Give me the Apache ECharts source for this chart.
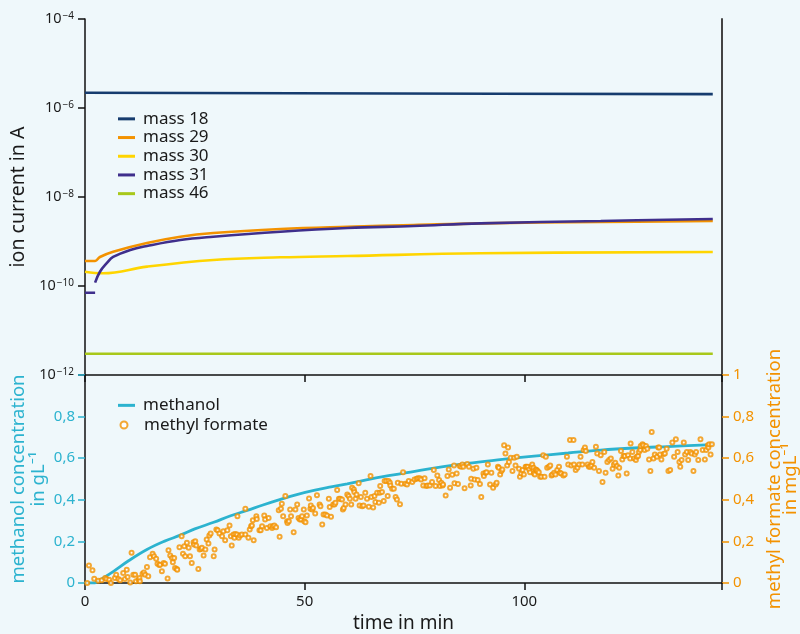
<!DOCTYPE html>
<html><head><meta charset="utf-8">
<script src="https://cdn.jsdelivr.net/npm/echarts@6/dist/echarts.min.js"></script>
<style>html,body{margin:0;padding:0;background:#eff8fb;}#c{width:800px;height:634px;}</style>
</head><body><div id="c"></div>
<script>
// ---------- data ----------
const seriesNames = ['mass 18', 'mass 29', 'mass 30', 'mass 31', 'mass 46'];
const mass18Time = [0, 70, 142.9];
const mass18 = [2.2e-6, 2.12e-6, 2.05e-6];
const mass29Time = [0, 2.3, 3.4, 6.4, 14.1, 21.7, 29.2, 44.5, 59.7, 74.8, 90.0, 117.4, 142.9];
const mass29 = [3.65e-10, 3.65e-10, 4.49e-10, 5.9e-10, 9.25e-10, 1.28e-9, 1.55e-9, 1.91e-9, 2.15e-9, 2.35e-9, 2.56e-9, 2.74e-9, 2.89e-9];
const mass30Time = [0, 4.1, 14.1, 29.2, 44.5, 59.7, 90.0, 142.9];
const mass30 = [2.09e-10, 1.93e-10, 2.72e-10, 3.84e-10, 4.41e-10, 4.72e-10, 5.43e-10, 5.81e-10];
const mass31aTime = [0, 2.3];
const mass31a = [7.07e-11, 7.07e-11];
const mass31bTime = [2.3, 3.4, 5.0, 6.4, 10.3, 14.1, 21.7, 29.2, 44.5, 59.7, 74.8, 90.0, 117.4, 142.9];
const mass31b = [1.19e-10, 2.09e-10, 3.29e-10, 4.49e-10, 6.45e-10, 7.92e-10, 1.08e-9, 1.28e-9, 1.66e-9, 2.01e-9, 2.23e-9, 2.56e-9, 2.89e-9, 3.21e-9];
const mass46Time = [0, 142.9];
const mass46 = [3.0e-12, 3.0e-12];

const methanolTime = [0, 2.2, 3.0, 4.0, 6.5, 10, 14.1, 18, 21.7, 25, 29.3, 33, 36.9, 40.5, 44.5, 48, 52.1, 56, 59.7, 67.2, 74.1, 79.4, 87, 95, 102.2, 110, 117.4, 125, 132.6, 142.9];
const methanol = [0, 0, 0.01, 0.022, 0.056, 0.108, 0.161, 0.2, 0.23, 0.26, 0.292, 0.322, 0.349, 0.375, 0.402, 0.424, 0.445, 0.462, 0.477, 0.509, 0.533, 0.552, 0.575, 0.594, 0.61, 0.625, 0.639, 0.649, 0.656, 0.665];

const formateTime = [0.5,0.9,1.7,2.1,3.0,3.8,4.6,4.9,5.5,5.9,6.8,7.1,7.6,8.0,8.7,9.1,9.5,9.7,10.3,10.6,11.0,11.4,11.6,12.2,12.4,12.5,13.1,13.4,13.7,14.1,14.4,14.8,15.4,15.7,16.2,16.5,16.9,17.1,17.5,17.9,18.2,18.8,19.0,19.4,19.8,20.0,20.3,20.5,20.9,21.0,21.5,22.0,22.3,22.6,22.8,23.2,23.6,23.9,24.3,24.7,24.8,25.1,25.3,25.8,26.1,26.4,26.6,27.0,27.4,27.7,28.1,28.3,28.6,29.3,29.5,29.9,30.2,30.6,31.2,31.5,31.9,32.4,32.9,33.2,33.4,33.8,34.0,34.2,34.6,34.7,35.0,35.3,35.7,36.5,36.5,37.2,37.5,37.8,38.0,38.2,38.4,39.0,39.1,39.7,40.0,40.3,40.8,41.0,41.4,41.8,42.2,42.6,42.8,43.1,43.5,44.1,44.3,44.6,44.8,45.1,45.6,46.0,46.1,46.4,46.7,46.9,47.5,47.9,48.3,48.6,48.9,49.2,49.4,49.8,49.9,50.2,50.5,51.0,51.3,51.4,51.7,51.9,52.4,52.8,53.4,53.6,54.0,54.3,54.7,55.1,55.5,55.7,56.0,56.5,56.8,57.0,57.4,57.8,58.1,58.5,58.7,58.9,59.3,59.7,60.0,60.3,60.6,60.8,61.2,61.3,61.6,61.8,62.3,62.5,62.8,63.1,63.4,63.8,64.2,64.6,65.0,65.2,65.6,65.9,66.1,66.5,66.9,67.1,67.2,67.6,68.0,68.2,68.6,68.9,69.1,69.4,69.5,69.9,70.3,70.7,71.0,71.2,71.7,72.0,72.4,72.9,73.3,73.7,74.5,75.0,75.5,75.8,76.2,76.5,77.0,77.3,77.7,78.0,78.5,79.0,79.4,79.8,80.2,80.6,80.8,81.1,81.4,81.5,82.1,82.5,82.8,83.1,83.6,84.0,84.1,84.6,84.9,85.3,85.6,85.9,86.1,86.4,87.0,87.4,87.8,87.9,88.4,88.7,89.1,89.4,89.9,90.2,90.7,90.8,91.2,91.4,91.7,92.2,92.5,92.9,93.5,93.7,94.0,94.2,94.5,94.8,95.0,95.4,95.7,96.1,96.3,96.5,96.9,97.3,97.7,98.0,98.3,98.8,99.0,99.3,99.6,99.9,100.3,100.5,100.8,101.1,101.3,101.6,101.8,102.1,102.2,102.4,102.6,102.8,103.0,103.3,103.6,103.9,104.3,104.6,104.9,105.2,105.6,105.9,106.2,106.4,106.8,107.1,107.5,107.9,108.1,108.4,108.9,109.2,109.7,110.0,110.4,110.7,111.2,111.3,111.7,112.1,112.5,112.8,113.2,113.5,113.8,114.0,114.4,114.7,115.0,115.3,115.5,115.9,116.3,116.6,117.0,117.4,117.8,118.2,118.5,118.9,119.3,119.7,120.1,120.4,120.7,121.1,121.4,121.6,122.0,122.3,122.6,122.9,123.3,123.6,124.1,124.2,124.6,125.0,125.4,125.6,125.9,126.1,126.4,126.5,126.9,127.1,127.4,127.7,128.0,128.4,128.7,129.0,129.4,129.7,130.2,130.5,130.7,130.9,131.2,131.7,132.0,132.4,132.8,133.2,133.7,134.1,134.5,134.9,135.3,135.5,135.8,136.3,136.6,137.0,137.3,137.8,138.1,138.5,138.8,139.1,139.6,140.1,140.6,141.1,141.4,141.8,141.9,142.1,142.4,142.7];
const formate = [0,0.084,0.061,0.021,0.011,0.013,0.024,0.019,0.016,0,0.024,0.040,0.019,0.013,0.048,0.019,0.064,0.029,0.003,0.145,0.040,0.040,0.008,0.016,0.024,0.008,0.045,0.051,0.040,0.077,0.032,0.124,0.141,0.129,0.116,0.093,0.087,0.088,0.056,0.096,0.093,0.022,0.157,0.132,0.120,0.100,0.120,0.072,0.067,0.064,0.172,0.225,0.141,0.177,0.129,0.193,0.169,0.129,0.096,0.196,0.185,0.201,0.180,0.067,0.161,0.164,0.169,0.132,0.161,0.209,0.190,0.228,0.238,0.129,0.161,0.257,0.254,0.238,0.225,0.249,0.206,0.254,0.276,0.225,0.180,0.233,0.217,0.236,0.233,0.321,0.217,0.228,0.233,0.357,0.233,0.217,0.257,0.273,0.276,0.302,0.206,0.321,0.308,0.254,0.254,0.273,0.324,0.305,0.265,0.313,0.273,0.265,0.273,0.276,0.268,0.350,0.222,0.357,0.381,0.321,0.418,0.297,0.289,0.297,0.353,0.321,0.244,0.353,0.378,0.313,0.305,0.305,0.321,0.353,0.297,0.292,0.324,0.406,0.357,0.373,0.353,0.361,0.334,0.422,0.378,0.369,0.281,0.329,0.329,0.324,0.405,0.365,0.318,0.378,0.378,0.386,0.447,0.405,0.405,0.402,0.353,0.361,0.378,0.426,0.418,0.405,0.378,0.458,0.450,0.437,0.405,0.426,0.479,0.373,0.414,0.369,0.373,0.434,0.405,0.366,0.514,0.414,0.363,0.418,0.390,0.434,0.386,0.434,0.466,0.437,0.394,0.490,0.490,0.418,0.490,0.482,0.469,0.453,0.453,0.414,0.402,0.482,0.379,0.477,0.533,0.477,0.474,0.490,0.485,0.498,0.501,0.504,0.504,0.498,0.469,0.504,0.466,0.469,0.469,0.485,0.543,0.466,0.517,0.495,0.466,0.482,0.469,0.474,0.421,0.514,0.546,0.458,0.520,0.565,0.479,0.527,0.476,0.562,0.559,0.570,0.559,0.456,0.572,0.559,0.469,0.501,0.549,0.498,0.554,0.495,0.476,0.414,0.527,0.514,0.530,0.533,0.570,0.474,0.530,0.458,0.474,0.482,0.559,0.554,0.522,0.538,0.546,0.662,0.623,0.565,0.651,0.582,0.602,0.538,0.602,0.565,0.607,0.549,0.511,0.527,0.543,0.522,0.559,0.559,0.559,0.546,0.533,0.559,0.570,0.554,0.527,0.522,0.546,0.543,0.538,0.533,0.511,0.511,0.614,0.511,0.607,0.554,0.559,0.565,0.517,0.522,0.530,0.522,0.543,0.559,0.530,0.527,0.517,0.522,0.607,0.570,0.688,0.565,0.688,0.570,0.543,0.554,0.570,0.607,0.570,0.639,0.651,0.635,0.570,0.559,0.559,0.565,0.582,0.554,0.655,0.623,0.538,0.614,0.485,0.630,0.530,0.582,0.591,0.598,0.549,0.570,0.578,0.562,0.517,0.554,0.635,0.594,0.610,0.610,0.527,0.614,0.598,0.671,0.630,0.598,0.591,0.607,0.610,0.630,0.639,0.659,0.667,0.662,0.639,0.659,0.646,0.594,0.538,0.726,0.598,0.618,0.607,0.651,0.652,0.618,0.594,0.620,0.623,0.646,0.538,0.543,0.675,0.607,0.691,0.630,0.582,0.559,0.591,0.675,0.618,0.630,0.591,0.630,0.623,0.538,0.618,0.630,0.591,0.691,0.639,0.594,0.639,0.662,0.651,0.667,0.618,0.667];

const xTicks = [0, 50, 100];

// ---------- chart ----------
const FONT = '"Noto Sans", "Open Sans", sans-serif';
const INK = '#1a1a1a';
const TEAL = '#2cb3cf';
const ORANGE = '#f39200';
const colors = {'mass 18':'#163c6e','mass 29':'#f39200','mass 30':'#ffd500','mass 31':'#3f2f8c','mass 46':'#a8c81a'};
const zip = (a, b) => a.map((t, i) => [t, b[i]]);
const comma = v => v === 0 ? '0' : String(+v.toFixed(1)).replace('.', ',');

function lineSeries(name, t, v) {
  return {
    name, type: 'line', xAxisIndex: 0, yAxisIndex: 0, data: zip(t, v),
    showSymbol: false, symbol: 'none', smooth: 0.4,
    lineStyle: {color: colors[name], width: 2.6}, itemStyle: {color: colors[name]}
  };
}

const legendText = {fontSize: 17, color: INK, lineHeight: 18.7, padding: [0, 0, 0, 3], fontFamily: FONT};

const chart = echarts.init(document.getElementById('c'), null, {renderer: 'canvas'});
chart.setOption({
  animation: false,
  backgroundColor: '#eff8fb',
  textStyle: {fontFamily: FONT},
  grid: [
    {left: 85, right: 78, top: 19, height: 356, containLabel: false, outerBoundsMode: 'none'},
    {left: 85, right: 78, top: 375, height: 208, containLabel: false, outerBoundsMode: 'none'}
  ],
  legend: [
    {data: seriesNames.map(n => ({name: n, icon: 'rect'})), orient: 'vertical', left: 118, top: 109.5, padding: 0,
     itemWidth: 17, itemHeight: 3, itemGap: 0, textStyle: legendText},
    {data: [{name: 'methanol', icon: 'rect'}], orient: 'vertical', left: 118, top: 396, padding: 0,
     itemWidth: 17, itemHeight: 3, textStyle: legendText},
    {data: ['methyl formate'], orient: 'vertical', left: 119.5, top: 415.6, padding: 0,
     itemWidth: 7, itemHeight: 7, textStyle: Object.assign({}, legendText, {padding: [0, 0, 0, 11.5]})}
  ],
  xAxis: [
    {gridIndex: 0, type: 'value', min: 0, max: 145, interval: 50,
     axisLine: {onZero: false, lineStyle: {color: '#111', width: 1.5}},
     axisTick: {length: 7, lineStyle: {color: '#111', width: 1.5}},
     axisLabel: {show: false}, splitLine: {show: false}},
    {gridIndex: 1, type: 'value', min: 0, max: 145, interval: 50,
     axisLine: {onZero: false, lineStyle: {color: '#111', width: 1.5}},
     axisTick: {length: 7, lineStyle: {color: '#111', width: 1.5}},
     axisLabel: {color: INK, fontSize: 15, margin: 11, fontFamily: FONT,
       formatter: v => xTicks.indexOf(v) >= 0 ? String(v) : ''},
     splitLine: {show: false},
     name: 'time in min', nameLocation: 'middle', nameGap: 31,
     nameTextStyle: {fontSize: 19, color: INK, fontFamily: FONT}}
  ],
  yAxis: [
    {gridIndex: 0, type: 'log', logBase: 10, min: 1e-12, max: 1e-4, interval: 2, position: 'left',
     axisLine: {show: true, onZero: false, lineStyle: {color: '#111', width: 1.5}},
     axisTick: {show: true, length: 7, lineStyle: {color: '#111', width: 1.5}},
     minorTick: {show: false}, splitLine: {show: false},
     axisLabel: {margin: 11, showMinLabel: true, showMaxLabel: true, formatter: v => {
        const e = Math.round(Math.log(v) / Math.LN10);
        return '{b|10}{s|\u2212' + (-e) + '}';
      },
      rich: {b: {fontSize: 14.5, color: INK, lineHeight: 16, fontFamily: FONT},
             s: {fontSize: 10, color: INK, lineHeight: 10, verticalAlign: 'top', fontFamily: FONT, padding: [0, 0, 0, 1]}}},
     name: 'ion current in A', nameLocation: 'middle', nameGap: 52,
     nameTextStyle: {fontSize: 19.5, color: INK, fontFamily: FONT}},
    {gridIndex: 0, type: 'value', position: 'right', min: 0, max: 1,
     axisLine: {show: true, onZero: false, lineStyle: {color: '#444', width: 2}},
     axisTick: {show: false}, axisLabel: {show: false}, splitLine: {show: false}},
    {gridIndex: 1, type: 'value', min: 0, max: 1, interval: 0.2, position: 'left',
     axisLine: {show: true, onZero: false, lineStyle: {color: '#111', width: 1.5}},
     axisTick: {show: true, length: 7, lineStyle: {color: TEAL, width: 1.5}},
     splitLine: {show: false},
     axisLabel: {color: TEAL, fontSize: 15, margin: 10, fontFamily: FONT, formatter: v => v >= 1 ? '' : comma(v)},
     name: 'methanol concentration\nin gL\u207B\u00B9', nameLocation: 'middle', nameGap: 37, nameMoveOverlap: false,
     nameTextStyle: {fontSize: 18.5, color: TEAL, lineHeight: 19.5, fontFamily: FONT}},
    {gridIndex: 1, type: 'value', min: 0, max: 1, interval: 0.2, position: 'right',
     axisLine: {show: true, onZero: false, lineStyle: {color: '#444', width: 2}},
     axisTick: {show: true, length: 7, lineStyle: {color: ORANGE, width: 1.5}},
     splitLine: {show: false},
     axisLabel: {color: ORANGE, fontSize: 15, margin: 11, fontFamily: FONT, showMaxLabel: true, showMinLabel: true,
       hideOverlap: false, formatter: v => comma(v)},
     name: 'methyl formate concentration\nin mgL\u207B\u00B9', nameLocation: 'middle', nameGap: 45,
     nameTextStyle: {fontSize: 18.5, color: ORANGE, lineHeight: 16, fontFamily: FONT}}
  ],
  series: [
    lineSeries('mass 18', mass18Time, mass18),
    lineSeries('mass 29', mass29Time, mass29),
    lineSeries('mass 30', mass30Time, mass30),
    lineSeries('mass 31', mass31aTime, mass31a),
    lineSeries('mass 31', mass31bTime, mass31b),
    lineSeries('mass 46', mass46Time, mass46),
    {name: 'methanol', type: 'line', xAxisIndex: 1, yAxisIndex: 2, data: zip(methanolTime, methanol),
     showSymbol: false, symbol: 'none', smooth: 0.4,
     lineStyle: {color: TEAL, width: 2.8}, itemStyle: {color: TEAL}, z: 2},
    {name: 'methyl formate', type: 'scatter', xAxisIndex: 1, yAxisIndex: 3, data: zip(formateTime, formate),
     symbol: 'emptyCircle', symbolSize: 4,
     itemStyle: {color: ORANGE, borderColor: ORANGE, borderWidth: 1.3}, z: 3}
  ]
});
</script></body></html>
